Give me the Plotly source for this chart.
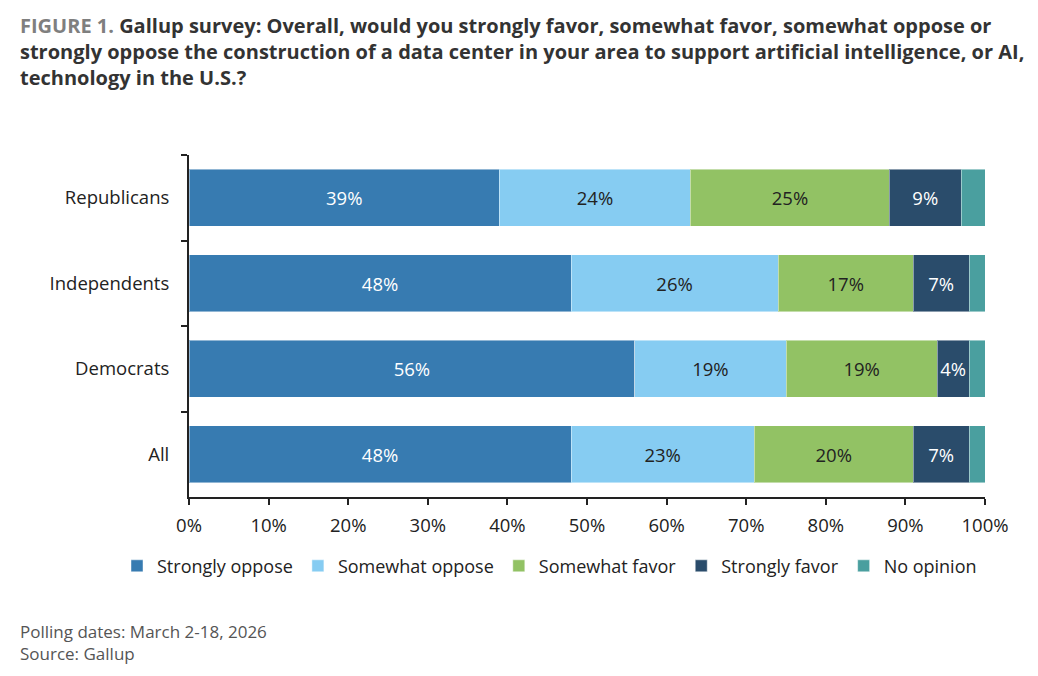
import plotly.graph_objects as go

# groups, top to bottom
groups = ["Republicans", "Independents", "Democrats", "All"]

answers = ["Strongly oppose", "Somewhat oppose", "Somewhat favor", "Strongly favor", "No opinion"]
strongly_oppose = [39, 48, 56, 48]
somewhat_oppose = [24, 26, 19, 23]
somewhat_favor = [25, 17, 19, 20]
strongly_favor = [9, 7, 4, 7]
no_opinion = [3, 2, 2, 2]

x_ticks = [0, 10, 20, 30, 40, 50, 60, 70, 80, 90, 100]

series = [strongly_oppose, somewhat_oppose, somewhat_favor, strongly_favor, no_opinion]
colors = ["#377bb1", "#86ccf2", "#92c264", "#2a4c6b", "#4a9f9f"]
text_colors = ["white", "#222222", "#222222", "white", "white"]
show_text = [True, True, True, True, False]

FONT = "Open Sans, Noto Sans, sans-serif"

# plot area in pixels: x 189..985, y 155..497
PW, PH = 796, 342

fig = go.Figure()
for name, vals, col, tcol, lab in zip(answers, series, colors, text_colors, show_text):
    fig.add_trace(go.Bar(
        y=groups,
        x=vals,
        name=name,
        orientation="h",
        marker=dict(color=col, line=dict(color="rgba(255,255,255,0.45)", width=1)),
        text=[f"{v}%" for v in vals] if lab else None,
        textposition="inside",
        insidetextanchor="middle",
        textangle=0,
        textfont=dict(color=tcol, size=18.5, family=FONT),
        hoverinfo="x+name",
    ))

fig.update_layout(
    width=1038,
    height=676,
    barmode="stack",
    bargap=0.33,
    plot_bgcolor="white",
    paper_bgcolor="white",
    font=dict(family=FONT, size=18.5, color="#222222"),
    margin=dict(l=189, r=53, t=155, b=179),
    legend=dict(
        orientation="h",
        x=-72 / PW,
        xanchor="left",
        y=-0.148,
        yanchor="top",
        traceorder="normal",
        font=dict(size=18, color="#222222"),
        itemwidth=30,
    ),
    annotations=[
        dict(
            text="<span style='color:#7f7f7f'>FIGURE 1.</span> Gallup survey: Overall, would you strongly favor, somewhat favor, somewhat oppose or<br>"
                 "strongly oppose the construction of a data center in your area to support artificial intelligence, or AI,<br>"
                 "technology in the U.S.?",
            xref="paper", yref="paper",
            x=-171 / PW, y=1 + 145 / PH,
            xanchor="left", yanchor="top",
            align="left",
            showarrow=False,
            font=dict(family=FONT, size=20, color="#333333", weight="bold"),
        ),
        dict(
            text="Polling dates: March 2-18, 2026<br>Source: Gallup",
            xref="paper", yref="paper",
            x=-171 / PW, y=-0.355,
            xanchor="left", yanchor="top",
            align="left",
            showarrow=False,
            font=dict(size=17, color="#555555"),
        ),
    ],
)

fig.update_xaxes(
    range=[0, 100],
    tickvals=x_ticks,
    ticktext=[f"{t}%" for t in x_ticks],
    showgrid=False,
    zeroline=False,
    showline=True,
    linecolor="#222222",
    linewidth=2,
    ticks="outside",
    ticklen=6,
    tickwidth=2,
    tickcolor="#222222",
    ticklabelstandoff=5,
)
fig.update_yaxes(
    autorange="reversed",
    showgrid=False,
    showline=True,
    linecolor="#222222",
    linewidth=2,
    ticks="outside",
    tickson="boundaries",
    ticklen=6,
    tickwidth=2,
    tickcolor="#222222",
    ticklabelstandoff=14,
)

fig.write_html("out.html", config={"displayModeBar": False},
               post_script="document.body.style.margin='0px';")
